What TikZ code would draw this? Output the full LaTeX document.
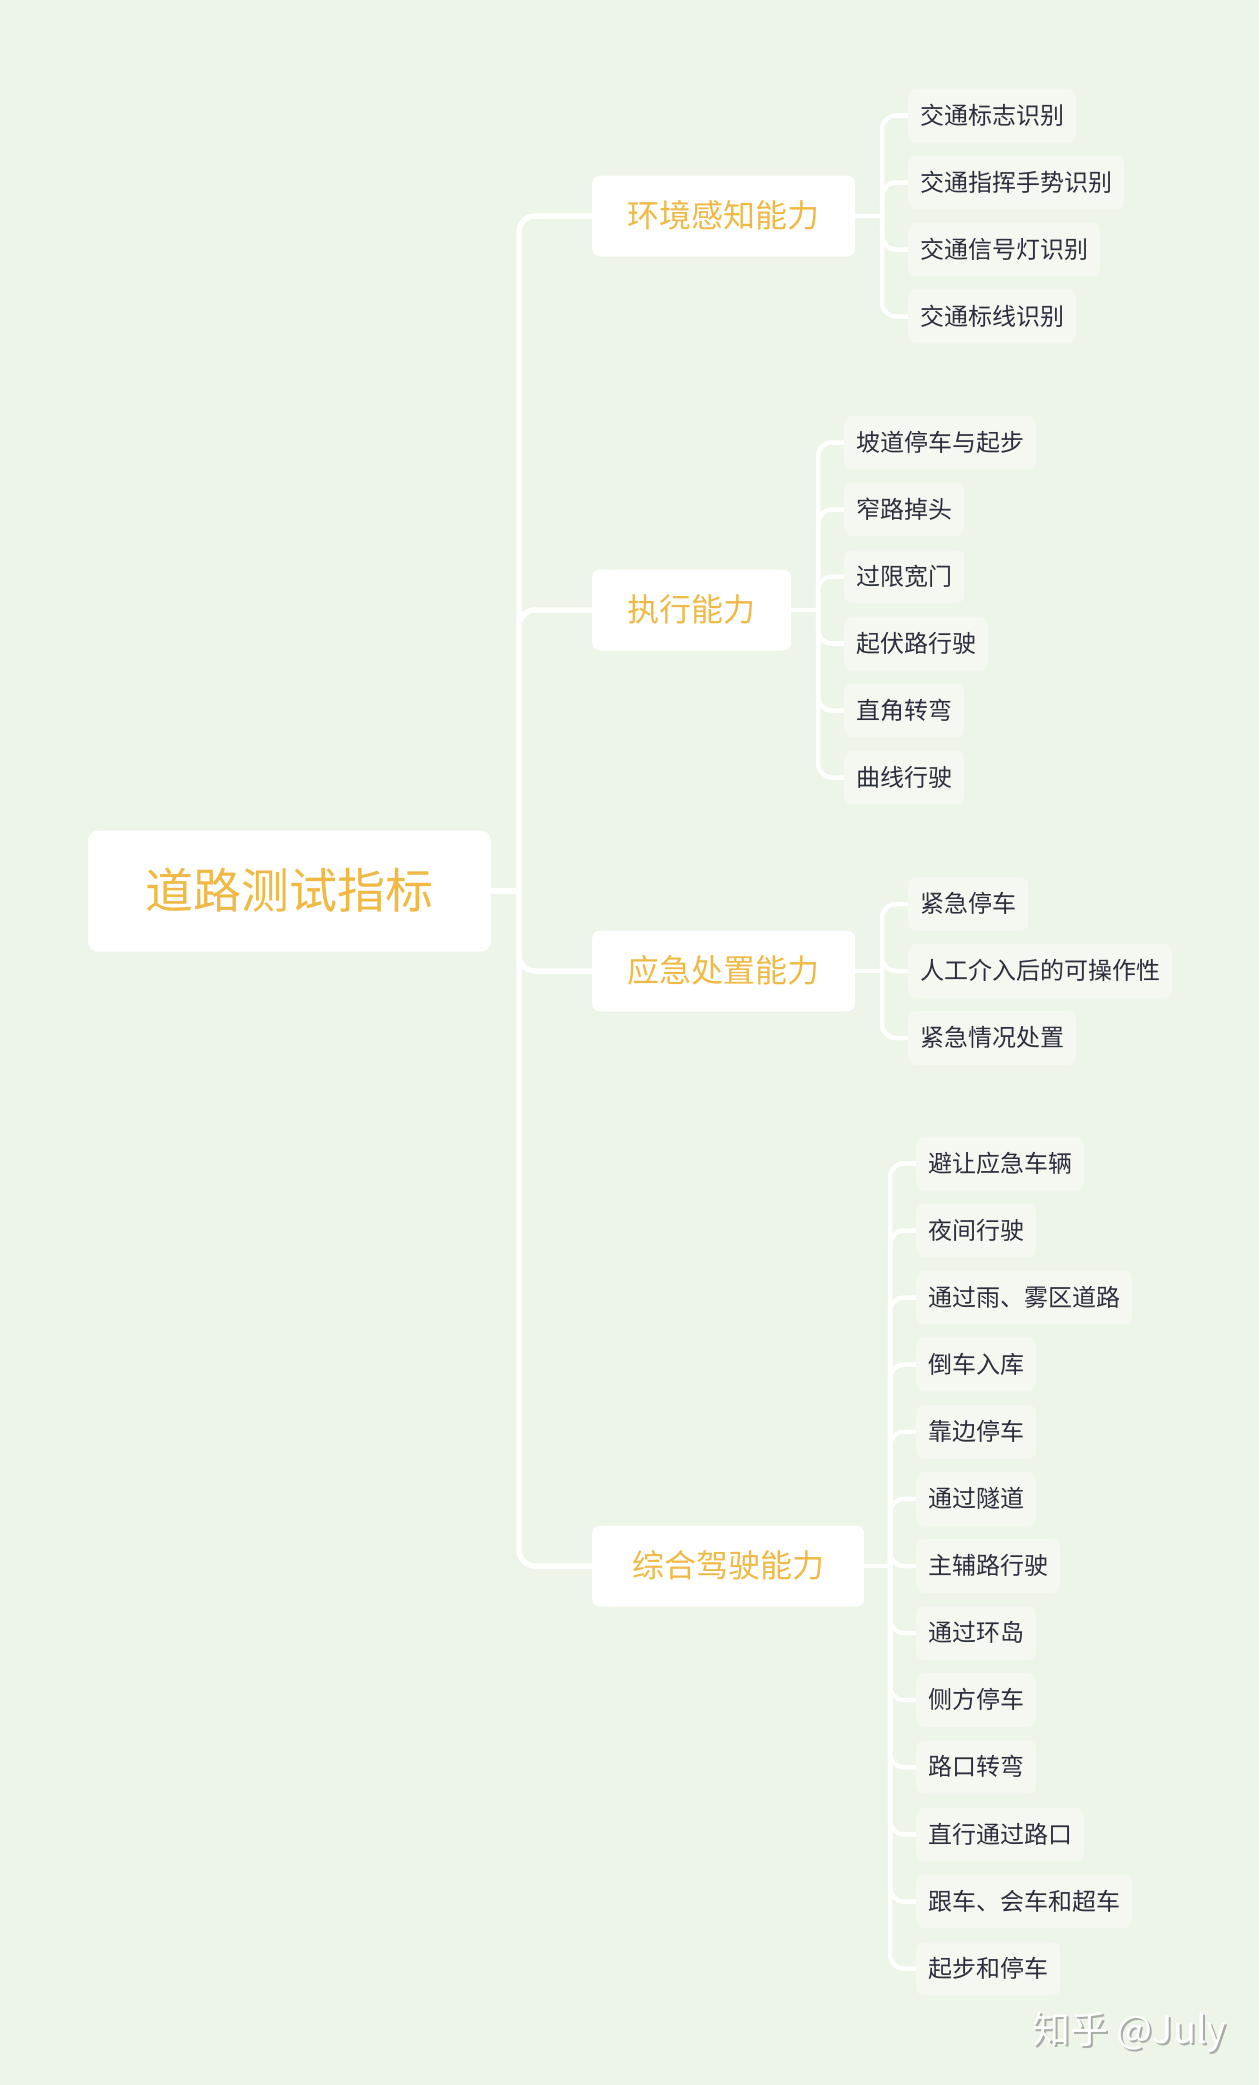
\documentclass[tikz,border=0pt]{standalone}
\usepackage{fontspec}
\newfontfamily\cjk{Noto Sans CJK SC}
\definecolor{bgc}{HTML}{EDF4E8}
\definecolor{leafbg}{HTML}{F4F8F0}
\definecolor{gold}{HTML}{F0B944}
\definecolor{ink}{HTML}{2B2F3D}
\definecolor{wmshadow}{HTML}{A9ADA8}
\tikzset{
  rootbox/.style={fill=white, rounded corners=10pt, minimum width=403pt, minimum height=121pt,
    inner sep=0pt, font=\cjk\fontsize{48pt}{48pt}\selectfont, text=gold,
    text height=41.3pt, text depth=6.7pt},
  midbox/.style={fill=white, rounded corners=8pt, minimum height=81pt, inner sep=0pt,
    font=\cjk\fontsize{32pt}{32pt}\selectfont, text=gold, anchor=west,
    text height=27.5pt, text depth=4.5pt},
  leafbox/.style={fill=leafbg, rounded corners=8pt, minimum height=54pt, inner xsep=12pt, inner ysep=0pt,
    font=\cjk\fontsize{24pt}{24pt}\selectfont, text=ink, anchor=west,
    text height=20.6pt, text depth=3.4pt},
  trunkline/.style={draw=white, line width=5.5pt, rounded corners=16pt},
  twig/.style={draw=white, line width=4.5pt, rounded corners=14pt},
  wmtext/.style={font=\cjk\fontsize{38pt}{38pt}\selectfont, anchor=center,
    text height=32.7pt, text depth=5.3pt, inner sep=0pt},
}
\begin{document}
\begin{tikzpicture}[x=1pt,y=-1pt]
\fill[bgc] (0,0) rectangle (1259,2085);
\useasboundingbox (0,0) rectangle (1259,2085);

% root
\node[rootbox] (root) at (289.5,891) {道路测试指标};

% level 1
\node[midbox, minimum width=263pt] (env) at (592,216) {环境感知能力};
\node[midbox, minimum width=199pt] (exe) at (592,610) {执行能力};
\node[midbox, minimum width=263pt] (emg) at (592,971) {应急处置能力};
\node[midbox, minimum width=272pt] (syn) at (592,1566) {综合驾驶能力};

\coordinate (trunk) at (519,891);
\draw[trunkline] (root.east) -- (trunk);
\foreach \n in {env,exe,emg,syn} \draw[trunkline] (trunk) |- (\n.west);

% environment leaves
\node[leafbox] (e1) at (908,115.5) {交通标志识别};
\node[leafbox] (e2) at (908,182.5) {交通指挥手势识别};
\node[leafbox] (e3) at (908,249.5) {交通信号灯识别};
\node[leafbox] (e4) at (908,316.5) {交通标线识别};
\coordinate (envj) at (882,216);
\draw[twig] (env.east) -- (envj);
\foreach \n in {e1,e2,e3,e4} \draw[twig] (envj) |- (\n.west);

% execution leaves
\node[leafbox] (x1) at (844,442.5) {坡道停车与起步};
\node[leafbox] (x2) at (844,509.5) {窄路掉头};
\node[leafbox] (x3) at (844,576.5) {过限宽门};
\node[leafbox] (x4) at (844,643.5) {起伏路行驶};
\node[leafbox] (x5) at (844,710.5) {直角转弯};
\node[leafbox] (x6) at (844,777.5) {曲线行驶};
\coordinate (exej) at (818,610);
\draw[twig] (exe.east) -- (exej);
\foreach \n in {x1,x2,x3,x4,x5,x6} \draw[twig] (exej) |- (\n.west);

% emergency leaves
\node[leafbox] (m1) at (908,904) {紧急停车};
\node[leafbox] (m2) at (908,971) {人工介入后的可操作性};
\node[leafbox] (m3) at (908,1038) {紧急情况处置};
\coordinate (emgj) at (882,971);
\draw[twig] (emg.east) -- (emgj);
\foreach \n in {m1,m2,m3} \draw[twig] (emgj) |- (\n.west);

% synthesis leaves
\foreach \t [count=\i] in {避让应急车辆,夜间行驶,通过雨、雾区道路,倒车入库,靠边停车,通过隧道,主辅路行驶,通过环岛,侧方停车,路口转弯,直行通过路口,跟车、会车和超车,起步和停车}
  \node[leafbox] (s\i) at (916,{1163.4+67.1*(\i-1)}) {\t};
\coordinate (synj) at (890,1566);
\draw[twig] (syn.east) -- (synj);
\foreach \i in {1,...,13} \draw[twig] (synj) |- (s\i.west);

% watermark
\node[wmtext, text=wmshadow] (wms) at (1131.5,2032) {知乎 @July};
\node[wmtext, text=white!96!bgc] (wm) at (1129.5,2029.5) {知乎 @July};
\end{tikzpicture}
\end{document}
